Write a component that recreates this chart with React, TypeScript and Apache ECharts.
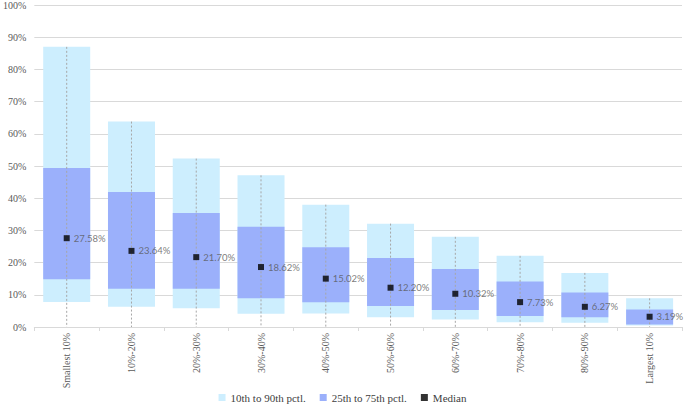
import React, { useEffect, useRef } from "react";
import * as echarts from "echarts";

const categories = ["Smallest 10%", "10%-20%", "20%-30%", "30%-40%", "40%-50%", "50%-60%", "60%-70%", "70%-80%", "80%-90%", "Largest 10%"];
const p10 = [7.8, 6.3, 5.8, 4.1, 4.2, 3.0, 2.3, 1.5, 1.3, 0.5];
const p25 = [14.8, 11.9, 11.9, 8.9, 7.7, 6.5, 5.3, 3.4, 3.0, 0.8];
const p75 = [49.4, 41.9, 35.4, 31.1, 24.8, 21.4, 18.0, 14.1, 10.7, 5.4];
const p90 = [87.0, 63.8, 52.3, 47.1, 38.0, 32.1, 28.0, 22.1, 16.8, 8.9];
const median = [27.58, 23.64, 21.7, 18.62, 15.02, 12.2, 10.32, 7.73, 6.27, 3.19];
const yTicks = [0, 10, 20, 30, 40, 50, 60, 70, 80, 90, 100];

const LIGHT = "#cdeefe";
const DARK = "#9bb0fb";
const SERIF = "'Liberation Serif', 'DejaVu Serif', serif";
const SANS = "Lato, 'Open Sans', sans-serif";

export default function App() {
  const ref = useRef<HTMLDivElement>(null);
  useEffect(() => {
    document.body.style.margin = "0";
    const chart = echarts.init(ref.current!, undefined, { renderer: "svg" });
    const option: any = {
      animation: false,
      grid: { left: 30, right: 3, top: 4, bottom: 81, containLabel: false },
      legend: {
        bottom: 0,
        left: "center",
        itemWidth: 7,
        itemHeight: 7,
        itemGap: 14,
        textStyle: { fontFamily: SERIF, fontSize: 11, color: "#404040" },
        data: [
          { name: "10th to 90th pctl.", icon: "rect" },
          { name: "25th to 75th pctl.", icon: "rect" },
          { name: "Median", icon: "rect" },
        ],
      },
      xAxis: {
        type: "category",
        data: categories,
        axisLine: { lineStyle: { color: "#d9d9d9" } },
        axisTick: { show: true, length: 4, lineStyle: { color: "#d9d9d9" } },
        axisLabel: { rotate: 90, fontFamily: SERIF, fontSize: 10, color: "#595959", margin: 6, interval: 0 },
      },
      yAxis: {
        type: "value",
        min: yTicks[0],
        max: yTicks[yTicks.length - 1],
        interval: 10,
        axisLine: { show: false },
        axisTick: { show: false },
        splitLine: { lineStyle: { color: "#d9d9d9" } },
        axisLabel: { formatter: "{value}%", fontFamily: SERIF, fontSize: 10, color: "#595959", margin: 8 },
      },
      series: [
        {
          name: "base10",
          type: "bar",
          stack: "a",
          barWidth: 47,
          itemStyle: { color: "transparent" },
          data: p10,
          silent: true,
        },
        {
          name: "10th to 90th pctl.",
          type: "bar",
          stack: "a",
          barWidth: 47,
          itemStyle: { color: LIGHT },
          data: p90.map((v, i) => +(v - p10[i]).toFixed(2)),
        },
        {
          name: "base25",
          type: "bar",
          stack: "b",
          barWidth: 47,
          barGap: "-100%",
          itemStyle: { color: "transparent" },
          data: p25,
          silent: true,
        },
        {
          name: "25th to 75th pctl.",
          type: "bar",
          stack: "b",
          barWidth: 47,
          barGap: "-100%",
          itemStyle: { color: DARK },
          data: p75.map((v, i) => +(v - p25[i]).toFixed(2)),
        },
        {
          name: "whisker",
          type: "custom",
          z: 5,
          silent: true,
          data: p90.map((v, i) => [i, v]),
          renderItem: (params: any, api: any) => {
            const idx = api.value(0);
            const top = api.coord([idx, api.value(1)]);
            const bottom = api.coord([idx, 0]);
            return {
              type: "line",
              shape: { x1: top[0], y1: top[1], x2: bottom[0], y2: bottom[1] },
              style: { stroke: "#a6a6a6", lineWidth: 1, lineDash: [2, 2] },
            };
          },
        },
        {
          name: "Median",
          type: "scatter",
          z: 10,
          symbol: "rect",
          symbolSize: 6,
          itemStyle: { color: "#000000" },
          data: median,
          label: {
            show: true,
            position: "right",
            distance: 4,
            fontFamily: SANS,
            fontSize: 9.5,
            color: "#595959",
            formatter: (p: any) => p.value.toFixed(2) + "%",
          },
        },
      ],
    };
    chart.setOption(option);
    return () => chart.dispose();
  }, []);
  return <div ref={ref} style={{ position: "absolute", left: 0, top: 0, width: 685, height: 408 }} />;
}
